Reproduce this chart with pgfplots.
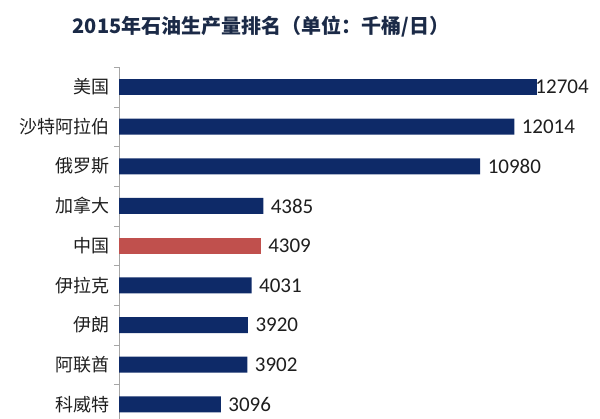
\documentclass[border=0pt]{standalone}
\usepackage{fontspec}
\setmainfont{Carlito}
\newfontfamily\cjk{Noto Sans CJK SC}
\usepackage{pgfplots}
\pgfplotsset{compat=1.18}
\definecolor{barblue}{HTML}{0E2A68}
\definecolor{barred}{HTML}{C0504D}
\definecolor{titleblue}{HTML}{1B2A47}
\definecolor{lbl}{HTML}{1E1E1E}
\begin{document}
\begin{tikzpicture}[x=1pt,y=1pt]
\path[use as bounding box] (0,0) rectangle (600,418);
\clip (0,0) rectangle (600,418);
\node[font=\cjk\bfseries\fontsize{20}{23}\selectfont, text=titleblue] at (261,391.5) {2015年石油生产量排名（单位：千桶/日）};
\begin{axis}[
  at={(119pt,351pt)}, anchor=north west,
  scale only axis, width=460.6pt, height=357.3pt,
  xbar, bar width=16pt,
  xmin=0, xmax=14000,
  ymin=-0.5, ymax=8.5, y dir=reverse,
  axis x line=none, axis y line=left,
  y axis line style={-, draw=gray!70},
  ytick={0,...,8},
  yticklabels={美国,沙特阿拉伯,俄罗斯,加拿大,中国,伊拉克,伊朗,阿联酋,科威特},
  yticklabel style={font=\cjk\fontsize{18}{20}\selectfont, text=lbl, xshift=-6pt},
  major tick length=0pt,
  minor ytick={-0.5,0.5,...,8.5},
  minor tick length=5pt,
  tick align=outside,
  minor tick style={gray!70},
  nodes near coords,
  point meta=explicit symbolic,
  every node near coord/.append style={font=\fontsize{21}{23}\selectfont, text=lbl, anchor=west},
  clip=false,
]
\addplot[fill=barblue, draw=none, bar shift=0pt, every node near coord/.append style={xshift=-5pt}] coordinates {(12704,0) [12704]};
\addplot[fill=barblue, draw=none, bar shift=0pt, every node near coord/.append style={xshift=4pt}] coordinates {(12014,1) [12014] (10980,2) [10980] (4385,3) [4385] (4031,5) [4031] (3920,6) [3920] (3902,7) [3902] (3096,8) [3096]};
\addplot[fill=barred, draw=none, bar shift=0pt, every node near coord/.append style={xshift=4pt}] coordinates {(4309,4) [4309]};
\end{axis}
\end{tikzpicture}
\end{document}
